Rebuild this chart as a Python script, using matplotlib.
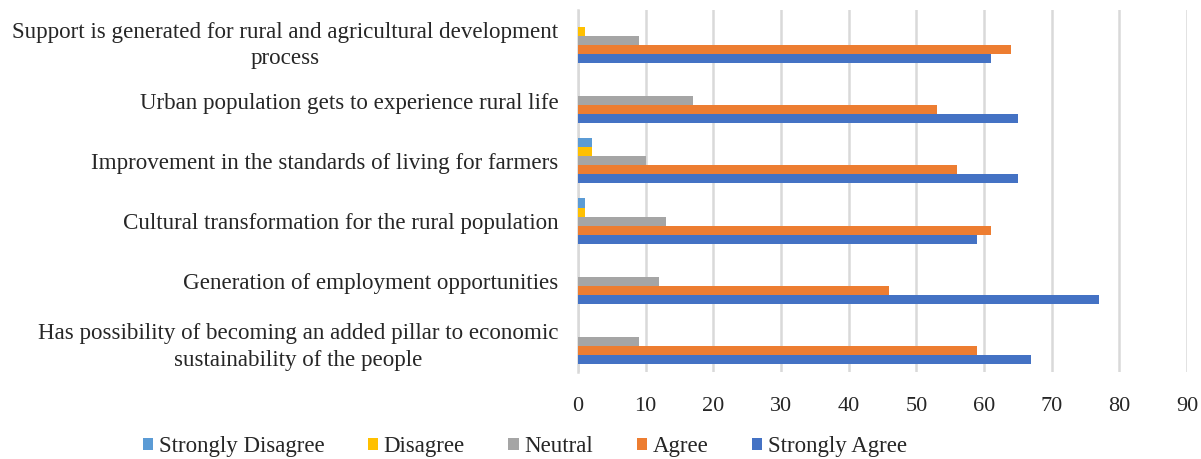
import numpy as np
import matplotlib
matplotlib.use('Agg')
from matplotlib import pyplot as plt

plt.rcParams['font.family'] = ['Liberation Serif', 'DejaVu Serif']

categories = ['Has possibility of becoming an added pillar to economic\nsustainability of the people',
              'Generation of employment opportunities',
              'Cultural transformation for the rural population',
              'Improvement in the standards of living for farmers',
              'Urban population gets to experience rural life',
              'Support is generated for rural and agricultural development\nprocess']
strongly_agree = [67, 77, 59, 65, 65, 61]
agree = [59, 46, 61, 56, 53, 64]
neutral = [9, 12, 13, 10, 17, 9]
disagree = [0, 0, 1, 2, 0, 1]
strongly_disagree = [0, 0, 1, 2, 0, 0]

series = [('Strongly Disagree', strongly_disagree, '#5B9BD5', 2),
          ('Disagree', disagree, '#FFC000', 1),
          ('Neutral', neutral, '#A5A5A5', 0),
          ('Agree', agree, '#ED7D31', -1),
          ('Strongly Agree', strongly_agree, '#4472C4', -2)]

fig = plt.figure(figsize=(12.01, 4.59), dpi=100)
ax = fig.add_axes([0.4813, 0.19, 0.5071, 0.788])

y = np.arange(len(categories))
h = 0.15
for name, vals, col, off in series:
    ax.barh(y + off * h, vals, height=h, color=col, label=name, zorder=3)

ax.set_ylim(-0.5, 5.5)
ax.set_xlim(0, 90)
ax.set_xticks(np.arange(0, 91, 10))
ax.set_yticks(y)
ax.set_yticklabels(categories, fontsize=16.6, ha='right', multialignment='center',
                   color='#262626', linespacing=1.35)
ax.tick_params(axis='y', length=0, pad=14)
ax.tick_params(axis='x', length=0, labelsize=16, pad=18, labelcolor='#262626')
ax.grid(axis='x', color='#D9D9D9', linewidth=1.8, zorder=0)
for s in ['top', 'right', 'bottom']:
    ax.spines[s].set_visible(False)
ax.spines['left'].set_color('#D9D9D9')
ax.spines['left'].set_linewidth(1.8)

ax.legend(loc='center', bbox_to_anchor=(0.437, 0.027), bbox_transform=fig.transFigure,
          ncol=5, frameon=False, fontsize=16.5, handlelength=0.45, handleheight=0.45,
          handletextpad=0.25, columnspacing=1.9, labelcolor='#262626', borderpad=0.1)

fig.savefig('out.png', dpi=100)
